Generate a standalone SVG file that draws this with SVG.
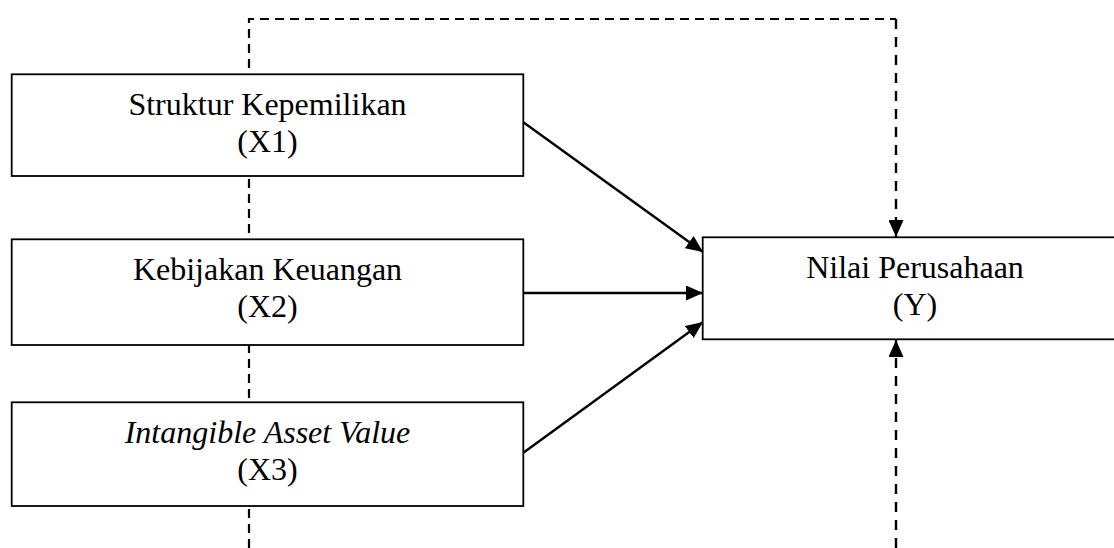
<svg xmlns="http://www.w3.org/2000/svg" width="1114" height="548" viewBox="0 0 1114 548">
<style>
.box{fill:#fff;stroke:#000;stroke-width:1.8}
.lbl{font-family:"Liberation Serif","Times New Roman",serif;font-size:32px;fill:#000;text-anchor:middle}
.it{font-style:italic}
.solid{fill:none;stroke:#000;stroke-width:2.4}
.dash{fill:none;stroke:#000;stroke-width:2.2;stroke-dasharray:9 6}
.dash2{fill:none;stroke:#000;stroke-width:2.4;stroke-dasharray:10 8}
</style>
<defs>
<marker id="ah" markerUnits="userSpaceOnUse" markerWidth="17" markerHeight="15" refX="17" refY="7.5" orient="auto">
<path d="M0,0 L17,7.5 L0,15 Z" fill="#000"/>
</marker>
</defs>
<rect width="1114" height="548" fill="#fff"/>
<g id="connectors">
<path class="dash" d="M249,548 V19 H896"/>
<path class="dash2" d="M896,19 V237" marker-end="url(#ah)"/>
<path class="dash2" d="M896,548 V340" marker-end="url(#ah)"/>
<path class="solid" d="M523,122 L703,252" marker-end="url(#ah)"/>
<path class="solid" d="M523,293 L703,293" marker-end="url(#ah)"/>
<path class="solid" d="M523,453 L703,322" marker-end="url(#ah)"/>
</g>
<g id="x1">
<rect class="box" x="11.7" y="74.3" width="511.6" height="101.7"/>
<text class="lbl" x="267.5" y="115">Struktur Kepemilikan</text>
<text class="lbl" x="267.5" y="152">(X1)</text>
</g>
<g id="x2">
<rect class="box" x="11.7" y="239.3" width="511.6" height="105.7"/>
<text class="lbl" x="267.5" y="280">Kebijakan Keuangan</text>
<text class="lbl" x="267.5" y="317">(X2)</text>
</g>
<g id="x3">
<rect class="box" x="11.7" y="402.3" width="511.6" height="103.7"/>
<text class="lbl it" x="267.5" y="443">Intangible Asset Value</text>
<text class="lbl" x="267.5" y="480">(X3)</text>
</g>
<g id="y">
<rect class="box" x="702.7" y="237.3" width="424" height="102"/>
<text class="lbl" x="915" y="278">Nilai Perusahaan</text>
<text class="lbl" x="915" y="315">(Y)</text>
</g>
</svg>
